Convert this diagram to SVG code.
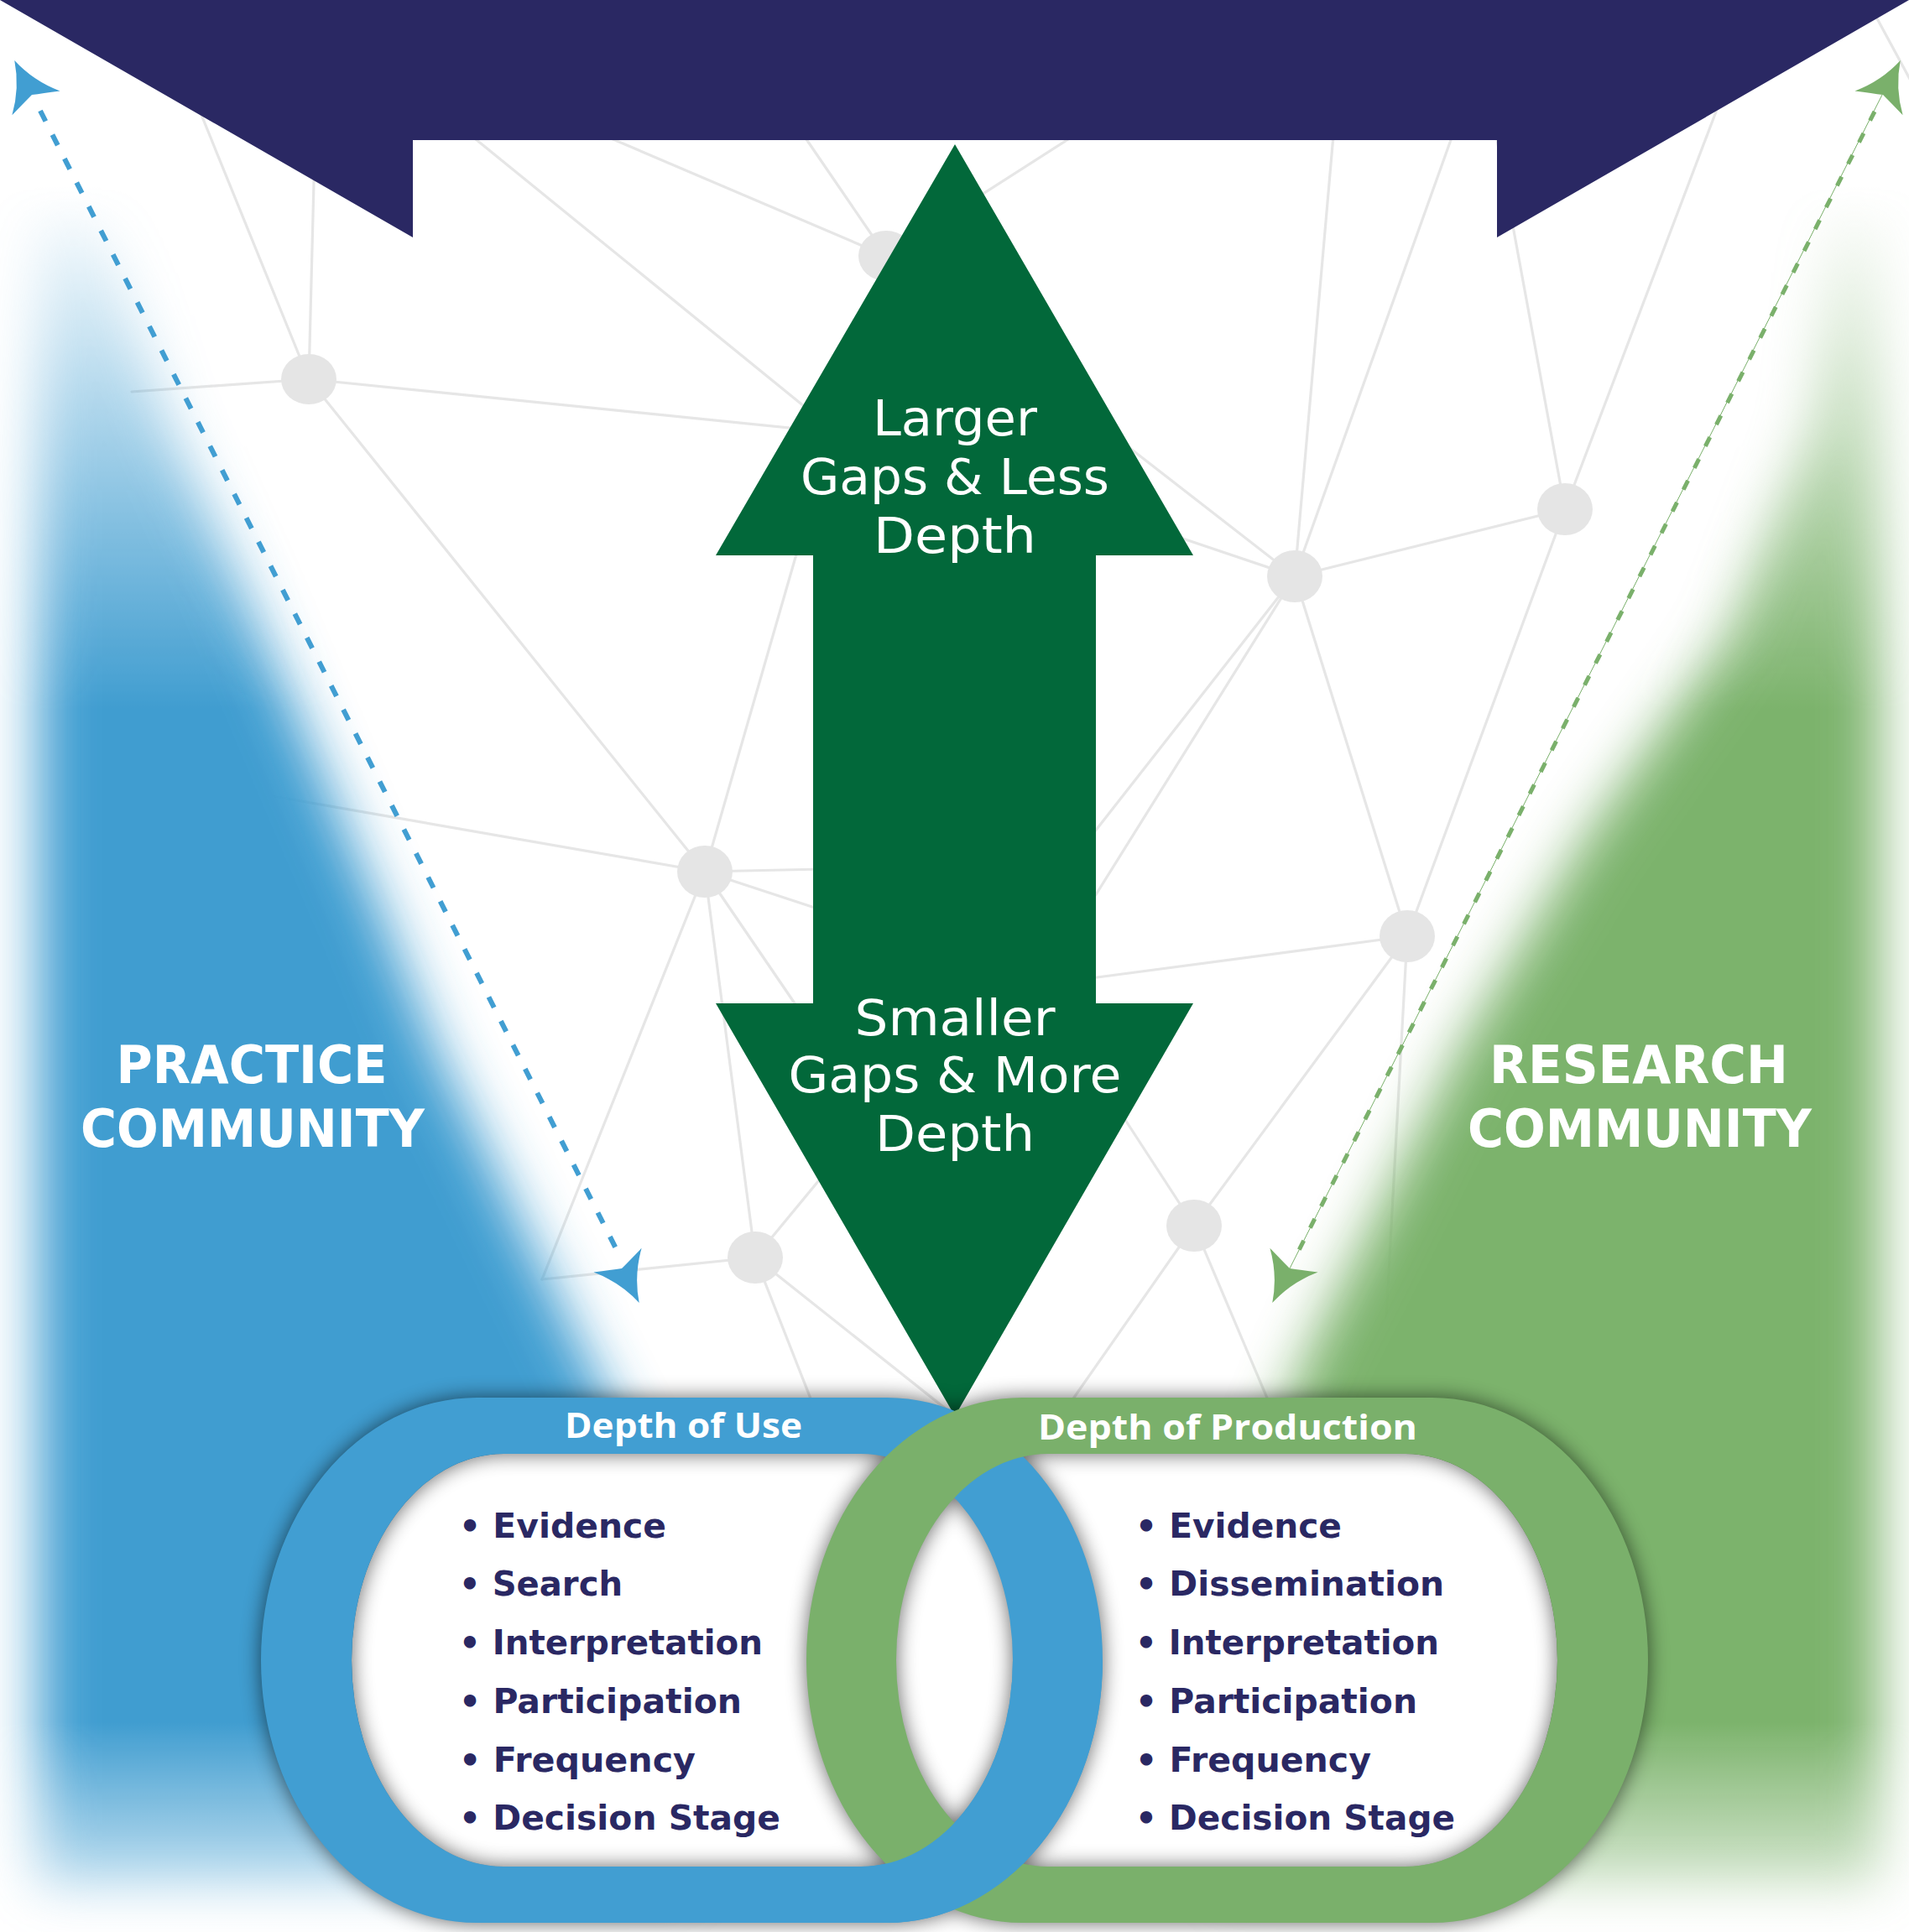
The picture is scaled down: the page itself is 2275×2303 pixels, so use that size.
<svg xmlns="http://www.w3.org/2000/svg" width="2275" height="2303" viewBox="0 0 2275 2303">
<defs>
<style>
.net line{stroke:#e6e6e6;stroke-width:3.2;stroke-linecap:round}
.node{fill:#e5e5e5}
.at{font-family:"DejaVu Sans",sans-serif;font-size:58px;fill:#fff;text-anchor:middle}
.ct{font-family:"DejaVu Sans",sans-serif;font-weight:bold;font-size:63px;fill:#fff;text-anchor:middle}
.rl{font-family:"Open Sans","Liberation Sans",sans-serif;font-weight:700;font-size:42px;fill:#fff}
.li{font-family:"DejaVu Sans",sans-serif;font-weight:bold;font-size:41px;fill:#2a2863}
</style>
<filter id="glow" filterUnits="userSpaceOnUse" x="-100" y="0" width="2475" height="2400"><feGaussianBlur stdDeviation="32"/></filter>
<filter id="rsh" filterUnits="userSpaceOnUse" x="200" y="1550" width="1900" height="853"><feGaussianBlur stdDeviation="12"/></filter>
<linearGradient id="vfade" gradientUnits="userSpaceOnUse" x1="0" y1="220" x2="0" y2="2303">
<stop offset="0" stop-color="#000"/>
<stop offset="0.3" stop-color="#fff"/>
<stop offset="0.88" stop-color="#fff"/>
<stop offset="1" stop-color="#222"/>
</linearGradient>
<mask id="gm" maskUnits="userSpaceOnUse" x="0" y="0" width="2275" height="2303"><rect width="2275" height="2303" fill="url(#vfade)"/></mask>
<path id="ring" fill-rule="evenodd" d="M568,1666 H1057 A257,313 0 0 1 1314,1979 A257,313 0 0 1 1057,2292 H568 A257,313 0 0 1 311,1979 A257,313 0 0 1 568,1666 Z M600,1733 H1026 A181,246 0 0 1 1207,1979 A181,246 0 0 1 1026,2225 H600 A181,246 0 0 1 419,1979 A181,246 0 0 1 600,1733 Z"/>
<path id="hole" d="M600,1733 H1026 A181,246 0 0 1 1207,1979 A181,246 0 0 1 1026,2225 H600 A181,246 0 0 1 419,1979 A181,246 0 0 1 600,1733 Z"/>
<path id="ah" d="M46,0 Q14,9 -11,32 Q-4,12 0,0 Q-4,-12 -11,-32 Q14,-9 46,0 Z"/>
<clipPath id="bot"><rect x="900" y="1979" width="500" height="330"/></clipPath>
</defs>
<rect width="2275" height="2303" fill="#fff"/>

<g id="connectors" class="net">
<line x1="368" y1="452" x2="157" y2="467"/>
<line x1="368" y1="452" x2="376" y2="140"/>
<line x1="368" y1="452" x2="225" y2="100"/>
<line x1="368" y1="452" x2="960" y2="512"/>
<line x1="368" y1="452" x2="840" y2="1039"/>
<line x1="535" y1="140" x2="980" y2="502"/>
<line x1="693" y1="150" x2="1056" y2="305"/>
<line x1="950" y1="150" x2="1056" y2="305"/>
<line x1="1290" y1="155" x2="1056" y2="305"/>
<line x1="1543" y1="687" x2="1590" y2="150"/>
<line x1="1543" y1="687" x2="1735" y2="150"/>
<line x1="1543" y1="687" x2="1300" y2="498"/>
<line x1="1543" y1="687" x2="1380" y2="632"/>
<line x1="1543" y1="687" x2="1865" y2="607"/>
<line x1="1543" y1="687" x2="1290" y2="1010"/>
<line x1="1543" y1="687" x2="1290" y2="1092"/>
<line x1="1543" y1="687" x2="1677" y2="1116"/>
<line x1="1865" y1="607" x2="1770" y2="90"/>
<line x1="1865" y1="607" x2="2050" y2="120"/>
<line x1="1865" y1="607" x2="1677" y2="1116"/>
<line x1="2225" y1="0" x2="2290" y2="120"/>
<line x1="250" y1="936" x2="840" y2="1039"/>
<line x1="840" y1="1039" x2="980" y2="1036"/>
<line x1="840" y1="1039" x2="980" y2="1085"/>
<line x1="840" y1="1039" x2="955" y2="640"/>
<line x1="840" y1="1039" x2="960" y2="1215"/>
<line x1="840" y1="1039" x2="900" y2="1499"/>
<line x1="840" y1="1039" x2="646" y2="1525"/>
<line x1="646" y1="1525" x2="900" y2="1499"/>
<line x1="900" y1="1499" x2="990" y2="1390"/>
<line x1="900" y1="1499" x2="1138" y2="1688"/>
<line x1="900" y1="1499" x2="975" y2="1690"/>
<line x1="1677" y1="1116" x2="1300" y2="1166"/>
<line x1="1677" y1="1116" x2="1423" y2="1461"/>
<line x1="1677" y1="1116" x2="1645" y2="1700"/>
<line x1="1423" y1="1461" x2="1330" y2="1318"/>
<line x1="1423" y1="1461" x2="1270" y2="1680"/>
<line x1="1423" y1="1461" x2="1520" y2="1690"/>
</g>

<g id="nodes">
<ellipse id="n1" class="node" cx="368" cy="452" rx="33" ry="30"/>
<ellipse id="n2" class="node" cx="1056" cy="305" rx="33" ry="30"/>
<ellipse id="n3" class="node" cx="1543" cy="687" rx="33" ry="31"/>
<ellipse id="n4" class="node" cx="1865" cy="607" rx="33" ry="31"/>
<ellipse id="n5" class="node" cx="840" cy="1039" rx="33" ry="31"/>
<ellipse id="n6" class="node" cx="1677" cy="1116" rx="33" ry="31"/>
<ellipse id="n7" class="node" cx="900" cy="1499" rx="33" ry="31"/>
<ellipse id="n8" class="node" cx="1423" cy="1461" rx="33" ry="31"/>
</g>

<g id="community-glows" mask="url(#gm)">
<g opacity="0.98" filter="url(#glow)">
<polygon fill="#3e9cd0" points="45,220 110,220 200,500 290,700 460,1100 520,1250 690,1600 790,1800 820,2260 45,2260"/>
<polygon fill="#7ab26b" points="2185,220 2240,220 2240,2260 1450,2260 1480,1800 1565,1600 1740,1250 1890,998 2060,756 2160,500"/>
</g>
</g>

<g id="dashed-arrows">
<line x1="48" y1="132" x2="738" y2="1496" stroke="#419ed2" stroke-width="6" stroke-dasharray="14 18"/>
<use href="#ah" fill="#419ed2" transform="translate(38,113) rotate(-116.8)"/>
<use href="#ah" fill="#419ed2" transform="translate(741,1512) rotate(63.2)"/>
<line x1="2243" y1="113" x2="1537" y2="1512" stroke="#7ab06b" stroke-width="1"/>
<line x1="2234" y1="133" x2="1543" y2="1500" stroke="#7ab06b" stroke-width="5" stroke-dasharray="12 17"/>
<use href="#ah" fill="#7ab06b" transform="translate(2244,113) rotate(-63.2)"/>
<use href="#ah" fill="#7ab06b" transform="translate(1537,1512) rotate(116.8)"/>
</g>

<g id="banner">
<polygon fill="#2a2863" points="0,0 2275,0 1784,283 1784,167 492,167 492,283"/>
</g>

<g id="double-arrow">
<polygon fill="#02683a" points="1138,172 1422,662 1306,662 1306,1196 1422,1196 1138,1688 853,1196 969,1196 969,662 853,662"/>
<text class="at" x="1138" y="519" textLength="196" lengthAdjust="spacingAndGlyphs">Larger</text>
<text class="at" x="1138" y="589" textLength="368" lengthAdjust="spacingAndGlyphs">Gaps &amp; Less</text>
<text class="at" x="1138" y="659" textLength="194" lengthAdjust="spacingAndGlyphs">Depth</text>
<text class="at" x="1138" y="1234" textLength="239" lengthAdjust="spacingAndGlyphs">Smaller</text>
<text class="at" x="1138" y="1302" textLength="397" lengthAdjust="spacingAndGlyphs">Gaps &amp; More</text>
<text class="at" x="1138" y="1372" textLength="190" lengthAdjust="spacingAndGlyphs">Depth</text>
</g>

<g id="practice-community">
<text class="ct" x="300" y="1291" textLength="323" lengthAdjust="spacingAndGlyphs">PRACTICE</text>
<text class="ct" x="301" y="1367" textLength="410" lengthAdjust="spacingAndGlyphs">COMMUNITY</text>
</g>
<g id="research-community">
<text class="ct" x="1953" y="1291" textLength="356" lengthAdjust="spacingAndGlyphs">RESEARCH</text>
<text class="ct" x="1954" y="1367" textLength="410" lengthAdjust="spacingAndGlyphs">COMMUNITY</text>
</g>

<g id="rings">
<use href="#hole" fill="#fff"/>
<use href="#hole" fill="#fff" transform="matrix(-1 0 0 1 2275 0)"/>
<g filter="url(#rsh)" opacity="0.6">
<use href="#ring" fill="#000"/>
<use href="#ring" fill="#000" transform="matrix(-1 0 0 1 2275 0)"/>
</g>
<use id="depth-of-use-ring" href="#ring" fill="#419ed2"/>
<use id="depth-of-production-ring" href="#ring" fill="#7ab06b" transform="matrix(-1 0 0 1 2275 0)"/>
<g clip-path="url(#bot)"><use href="#ring" fill="#419ed2"/></g>
</g>

<g id="depth-of-use">
<text class="rl" x="673" y="1714" textLength="283" lengthAdjust="spacingAndGlyphs">Depth of Use</text>
<text class="li" x="547" y="1833" textLength="247" lengthAdjust="spacingAndGlyphs">• Evidence</text>
<text class="li" x="547" y="1902" textLength="195" lengthAdjust="spacingAndGlyphs">• Search</text>
<text class="li" x="547" y="1972" textLength="362" lengthAdjust="spacingAndGlyphs">• Interpretation</text>
<text class="li" x="547" y="2042" textLength="337" lengthAdjust="spacingAndGlyphs">• Participation</text>
<text class="li" x="547" y="2112" textLength="282" lengthAdjust="spacingAndGlyphs">• Frequency</text>
<text class="li" x="547" y="2181" textLength="383" lengthAdjust="spacingAndGlyphs">• Decision Stage</text>
</g>

<g id="depth-of-production">
<text class="rl" x="1237" y="1716" textLength="452" lengthAdjust="spacingAndGlyphs">Depth of Production</text>
<text class="li" x="1353" y="1833" textLength="246" lengthAdjust="spacingAndGlyphs">• Evidence</text>
<text class="li" x="1353" y="1902" textLength="368" lengthAdjust="spacingAndGlyphs">• Dissemination</text>
<text class="li" x="1353" y="1972" textLength="362" lengthAdjust="spacingAndGlyphs">• Interpretation</text>
<text class="li" x="1353" y="2042" textLength="336" lengthAdjust="spacingAndGlyphs">• Participation</text>
<text class="li" x="1353" y="2112" textLength="281" lengthAdjust="spacingAndGlyphs">• Frequency</text>
<text class="li" x="1353" y="2181" textLength="381" lengthAdjust="spacingAndGlyphs">• Decision Stage</text>
</g>
</svg>
